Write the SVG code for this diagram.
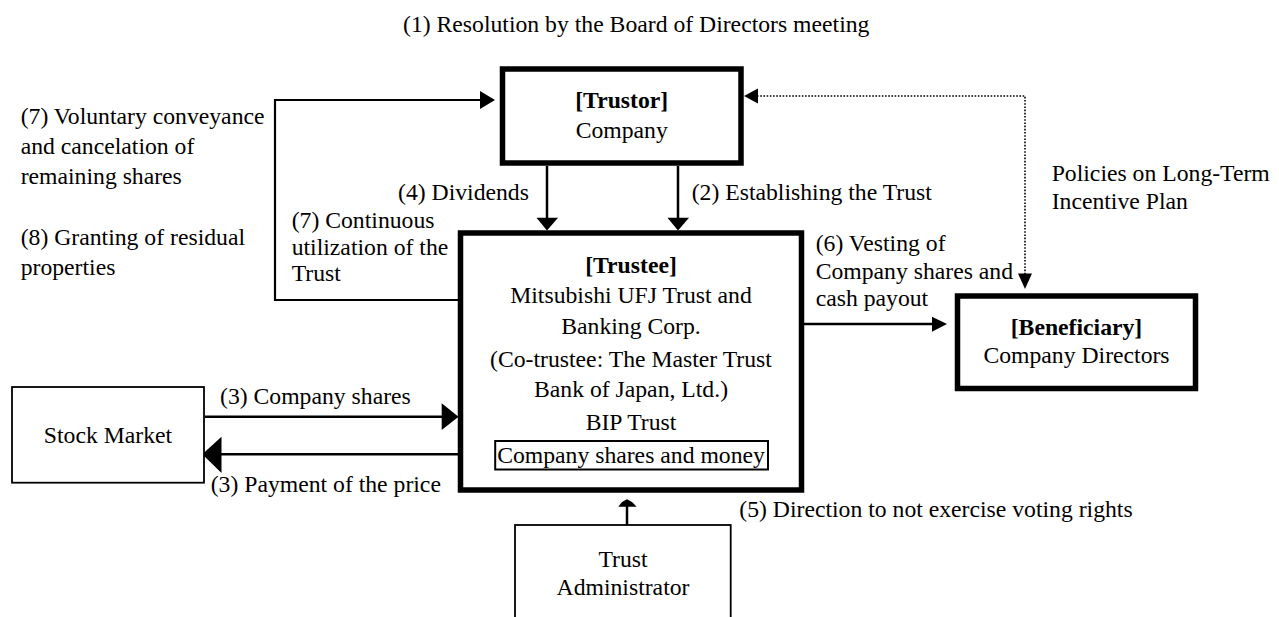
<svg xmlns="http://www.w3.org/2000/svg" width="1279" height="617" viewBox="0 0 1279 617">
<style>
text{font-family:"Liberation Serif","Times New Roman",serif;font-size:23.7px;fill:#000}
.c{text-anchor:middle}
.b{font-weight:bold}
.thick{fill:#fff;stroke:#000;stroke-width:5.5}
.thin{fill:#fff;stroke:#000;stroke-width:1.8}
.ln{fill:none;stroke:#000;stroke-width:2.5}
.dot{fill:none;stroke:#000;stroke-width:1.6;stroke-dasharray:1.6 1.6}
.hd{fill:#000;stroke:none}
</style>
<rect width="1279" height="617" fill="#fff"/>
<text id="title" x="403" y="31.7">(1) Resolution by the Board of Directors meeting</text>
<g id="notes-left">
<text x="20.7" y="124">(7) Voluntary conveyance</text>
<text x="20.7" y="154.3">and cancelation of</text>
<text x="20.7" y="183.5">remaining shares</text>
<text x="20.7" y="245">(8) Granting of residual</text>
<text x="20.7" y="274.5">properties</text>
</g>
<g id="connectors">
<polyline class="ln" points="458,300 275,300 275,100 481,100" style="stroke-width:2.2"/>
<polygon class="hd" points="480,91 495,100 480,109"/>
<line class="ln" x1="547" y1="166" x2="547" y2="219"/>
<polygon class="hd" points="536.5,217.7 558,217.7 547,230.5"/>
<line class="ln" x1="678" y1="166" x2="678" y2="219"/>
<polygon class="hd" points="667.5,217.7 689,217.7 678,230.5"/>
<polyline class="dot" points="757,96 1025,96 1025,274"/>
<polygon class="hd" points="758,88.5 744,96 758,103.5"/>
<polygon class="hd" points="1018,273.5 1032,273.5 1025,289"/>
<line class="ln" x1="804" y1="324" x2="933" y2="324"/>
<polygon class="hd" points="932,316.7 947,324 932,331.7"/>
<line class="ln" x1="205" y1="416.7" x2="443" y2="416.7"/>
<polygon class="hd" points="441.7,403.3 458.5,416.7 441.7,430"/>
<line class="ln" x1="458" y1="454.3" x2="220" y2="454.3"/>
<polygon class="hd" points="221.5,436.7 202.3,454.3 221.5,473"/>
<line class="ln" x1="627" y1="525" x2="627" y2="505"/>
<polygon class="hd" points="618.3,506.7 622,502 627,499.3 632,502 636.7,506.7"/>
</g>
<g id="trustor">
<rect class="thick" x="502.5" y="69" width="238.5" height="94"/>
<text class="c b" x="621.7" y="108.3">[Trustor]</text>
<text class="c" x="621.7" y="138.3">Company</text>
</g>
<g id="trustee">
<rect class="thick" x="460.5" y="233" width="341" height="257"/>
<text class="c b" x="631" y="272.7">[Trustee]</text>
<text class="c" x="631" y="303">Mitsubishi UFJ Trust and</text>
<text class="c" x="631" y="334">Banking Corp.</text>
<text class="c" x="631" y="366.7">(Co-trustee: The Master Trust</text>
<text class="c" x="631" y="397">Bank of Japan, Ltd.)</text>
<text class="c" x="631" y="429.5">BIP Trust</text>
<rect class="thin" x="495.2" y="441" width="272.8" height="28.5" style="fill:none;stroke-width:2"/>
<text class="c" x="631" y="463">Company shares and money</text>
</g>
<g id="beneficiary">
<rect class="thick" x="957.5" y="296" width="238" height="92.5"/>
<text class="c b" x="1076.5" y="335">[Beneficiary]</text>
<text class="c" x="1076.5" y="363.3">Company Directors</text>
</g>
<g id="stock-market">
<rect class="thin" x="12" y="387" width="192" height="95.7"/>
<text class="c" x="108" y="443.3">Stock Market</text>
</g>
<g id="trust-administrator">
<rect class="thin" x="515" y="525" width="215.7" height="110"/>
<text class="c" x="623" y="566.7">Trust</text>
<text class="c" x="623" y="595">Administrator</text>
</g>
<g id="labels">
<text x="398" y="200">(4) Dividends</text>
<text x="691.7" y="200">(2) Establishing the Trust</text>
<text x="291.7" y="228">(7) Continuous</text>
<text x="291.7" y="255">utilization of the</text>
<text x="291.7" y="281">Trust</text>
<text x="1051.7" y="181">Policies on Long-Term</text>
<text x="1051.7" y="209.3">Incentive Plan</text>
<text x="815.7" y="250.5">(6) Vesting of</text>
<text x="815.7" y="279">Company shares and</text>
<text x="815.7" y="305.5">cash payout</text>
<text x="220" y="404">(3) Company shares</text>
<text x="210.7" y="491.7">(3) Payment of the price</text>
<text x="739.3" y="516.7">(5) Direction to not exercise voting rights</text>
</g>
</svg>
